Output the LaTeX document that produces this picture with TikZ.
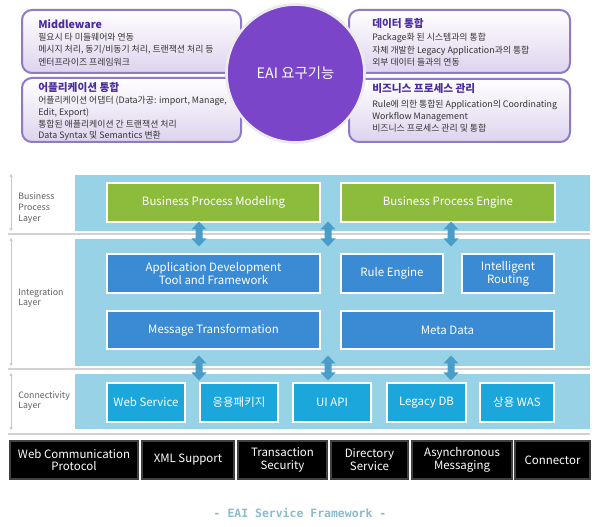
\documentclass[tikz,border=0pt]{standalone}
\usepackage{fontspec}
\setmainfont{Noto Sans CJK KR}
\newfontfamily\capfont{DejaVu Sans Mono}
\usetikzlibrary{arrows.meta}
\definecolor{lav}{HTML}{DDD3EE}
\definecolor{lavborder}{HTML}{9079C6}
\definecolor{ttlc}{HTML}{4A2CA0}
\definecolor{bodyc}{HTML}{333333}
\definecolor{circc}{HTML}{7A45C8}
\definecolor{panelc}{HTML}{97D2E6}
\definecolor{greenc}{HTML}{8DBB3C}
\definecolor{bluec}{HTML}{3A8AD4}
\definecolor{cyanc}{HTML}{1BA6DC}
\definecolor{arrowc}{HTML}{4A9DC9}
\definecolor{sepc}{HTML}{D2D2D2}
\definecolor{labc}{HTML}{606060}
\definecolor{capc}{HTML}{8CBBCB}
\tikzset{
  sz/.style 2 args={minimum width=#1*0.75pt, minimum height=#2*0.75pt},
  lavbox/.style={rounded corners=7.5pt, draw=lavborder, line width=1.5pt,
    top color=white, bottom color=lav, inner sep=0pt},
  ttl/.style={font=\fontsize{8}{9}\selectfont\bfseries, text=ttlc, inner sep=0pt, anchor=base west},
  bodytxt/.style={font=\fontsize{6.65}{8}\selectfont, text=bodyc, inner sep=0pt, anchor=base west},
  panel/.style={fill=panelc, inner sep=0pt},
  cbox/.style={draw=white, line width=1.2pt, text=white, inner sep=0pt, align=center,
    font=\fontsize{8.6}{9.6}\selectfont},
  gbox/.style={cbox, fill=greenc},
  bbox/.style={cbox, fill=bluec},
  ybox/.style={cbox, fill=cyanc},
  kbox/.style={fill=black, draw=black!75, line width=1.2pt, text=white, inner sep=0pt,
    align=center, font=\fontsize{8.6}{9.6}\selectfont},
  laytxt/.style={font=\fontsize{6.6}{8}\selectfont, text=labc, align=left, anchor=west, inner sep=0pt},
  lline/.style={draw=black!22, line width=0.6pt, {Stealth[length=2.5pt,width=2.5pt]}-{Stealth[length=2.5pt,width=2.5pt]}},
  sepline/.style={draw=sepc, line width=1.5pt},
  dblarr/.pic={\fill[arrowc] (0,-12.5) -- (7.5,-4.5) -- (3.5,-4.5) -- (3.5,4.5) -- (7.5,4.5)
      -- (0,12.5) -- (-7.5,4.5) -- (-3.5,4.5) -- (-3.5,-4.5) -- (-7.5,-4.5) -- cycle;}
}
\begin{document}
\begin{tikzpicture}[x=0.75pt,y=-0.75pt]
\useasboundingbox[fill=white] (0,0) rectangle (600,527);

% ---- top: requirement boxes ----
\node[lavbox, sz={219}{63}] (mw) at (131.5,41.5) {};
\node[lavbox, sz={219}{64}] (ai) at (131.5,110) {};
\node[lavbox, sz={221}{63}] (di) at (459.5,41.5) {};
\node[lavbox, sz={221}{63}] (bp) at (459.5,110.5) {};
\node[circle, fill=circc, draw=black!8, line width=2pt, minimum size=138*0.75pt, inner sep=0pt,
  text=white, font=\fontsize{10.8}{12}\selectfont] (eai) at (295.5,73.5) {EAI 요구기능};

\node[ttl] (mwt) at (38,29) {Middleware};
\foreach \t [count=\i] in {필요시 타 미들웨어와 연동, {메시지 처리, 동기/비동기 처리, 트랜잭션 처리 등}, 엔터프라이즈 프레임워크}
  \node[bodytxt] (mw\i) at (38,28.3+12.3*\i) {\t};

\node[ttl] (ait) at (38,91.5) {어플리케이션 통합};
\foreach \t [count=\i] in {{어플리케이션 어댑터 (Data가공: import, Manage,}, {Edit, Export)}, 통합된 애플리케이션 간 트랜잭션 처리, Data Syntax 및 Semantics 변환}
  \node[bodytxt] (ai\i) at (38,92+11.7*\i) {\t};

\node[ttl] (dit) at (372,28) {데이터 통합};
\foreach \t [count=\i] in {Package화 된 시스템과의 통합, 자체 개발한 Legacy Application과의 통합, 외부 데이터 들과의 연동}
  \node[bodytxt] (di\i) at (372,28.3+12.4*\i) {\t};

\node[ttl] (bpt) at (372,93) {비즈니스 프로세스 관리};
\foreach \t [count=\i] in {Rule에 의한 통합된 Application의 Coordinating, Workflow Management, 비즈니스 프로세스 관리 및 통합}
  \node[bodytxt] (bp\i) at (372,95+12.2*\i) {\t};

% ---- layers ----
\node[panel, sz={515}{56}] (p1) at (332.5,203) {};
\node[panel, sz={515}{127}] (p2) at (332.5,302.5) {};
\node[panel, sz={515}{55}] (p3) at (332.5,401.5) {};

\draw[sepline] (8,234) -- (590,234);
\draw[sepline] (8,369.5) -- (590,369.5);
\draw[sepline] (8,433.5) -- (590,433.5);

\draw[lline] (11,174) -- (11,231);
\draw[lline] (11,238) -- (11,366);
\draw[lline] (11,373) -- (11,430);

\node[laytxt] (l1) at (18,208) {Business\\Process\\Layer};
\node[laytxt] (l2) at (18,298) {Integration\\Layer};
\node[laytxt] (l3) at (18,401) {Connectivity\\Layer};

\node[gbox, sz={213}{39}] (bpm) at (213.5,202.5) {Business Process Modeling};
\node[gbox, sz={214}{39}] (bpe) at (448,202.5) {Business Process Engine};

\node[bbox, sz={213}{39}] (adt) at (213.5,273.5) {Application Development\\Tool and Framework};
\node[bbox, sz={102}{39}] (re) at (392,273.5) {Rule Engine};
\node[bbox, sz={92}{39}] (ir) at (508,273.5) {Intelligent\\Routing};
\node[bbox, sz={213}{38}] (mt) at (213.5,330) {Message Transformation};
\node[bbox, sz={213}{38}] (md) at (447.5,330) {Meta Data};

\node[ybox, sz={78}{39}] (ws) at (146,402.5) {Web Service};
\node[ybox, sz={78}{39}] (pkg) at (239,402.5) {응용패키지};
\node[ybox, sz={78}{39}] (ui) at (332,402.5) {UI API};
\node[ybox, sz={79}{39}] (ldb) at (426.5,402.5) {Legacy DB};
\node[ybox, sz={74}{39}] (was) at (517,402.5) {상용 WAS};

\pic (u1) at (199,234) {dblarr};
\pic (u2) at (328,234) {dblarr};
\pic (u3) at (451,234) {dblarr};
\pic (d1) at (199,368) {dblarr};
\pic (d2) at (328,368) {dblarr};
\pic (d3) at (451,368) {dblarr};

% ---- support bar ----
\node[kbox, sz={128}{38}] (wcp) at (74,460) {Web Communication\\Protocol};
\node[kbox, sz={92}{38}] (xml) at (188,460) {XML Support};
\node[kbox, sz={89}{38}] (ts) at (282.5,460) {Transaction\\Security};
\node[kbox, sz={77}{38}] (ds) at (369.5,460) {Directory\\Service};
\node[kbox, sz={100}{38}] (am) at (462,460) {Asynchronous\\Messaging};
\node[kbox, sz={75}{38}] (con) at (552.5,460) {Connector};

\node[text=capc, font=\capfont\bfseries\fontsize{8.6}{10}\selectfont, inner sep=0pt] (cap) at (300,513) {- EAI Service Framework -};
\end{tikzpicture}
\end{document}
